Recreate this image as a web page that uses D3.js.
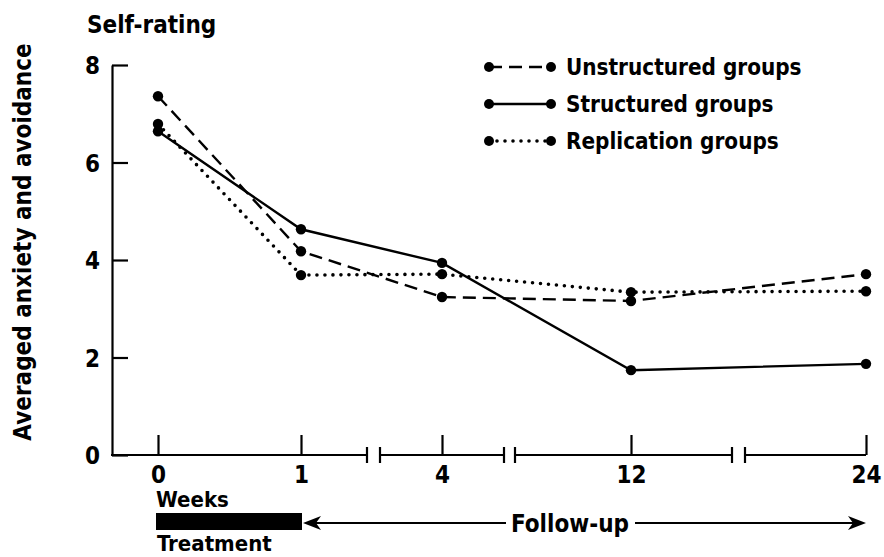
<!DOCTYPE html>
<html><head><meta charset="utf-8">
<script src="https://cdn.jsdelivr.net/npm/d3@7/dist/d3.min.js"></script>
<style>body{margin:0;background:#fff}svg{display:block}text{font-family:"DejaVu Sans Condensed","DejaVu Sans",sans-serif;font-weight:bold;fill:#000}</style>
</head><body><svg id="c" width="884" height="557"></svg>
<script>
const weeks = [0, 1, 4, 12, 24];
const weekLabels = ["0", "1", "4", "12", "24"];
const unstructured = [7.36, 4.18, 3.24, 3.16, 3.71];
const structured = [6.64, 4.63, 3.94, 1.74, 1.87];
const replication = [6.79, 3.69, 3.71, 3.34, 3.36];
const seriesNames = ["Unstructured groups", "Structured groups", "Replication groups"];
const yTicks = [0, 2, 4, 6, 8];

const FONT = "'DejaVu Sans Condensed','DejaVu Sans',sans-serif";
const svg = d3.select("#c");
const x = d3.scaleLinear().domain(weeks).range([158, 301, 442, 631, 866]);
const y = d3.scaleLinear().domain([0, 8]).range([455, 65]);
const X0 = 112;

// y axis
const ya = svg.append("g").attr("transform", `translate(${X0},0)`)
  .call(d3.axisLeft(y).tickValues(yTicks).tickSize(-16).tickSizeOuter(0).tickPadding(12));
ya.select(".domain").attr("stroke-width", 2.2);
ya.selectAll(".tick line").attr("stroke-width", 2.2);
ya.selectAll(".tick text").style("font-size", "24px").style("font-family", FONT).style("font-weight", "bold").attr("dy", "0.36em");

// x axis (ticks up), domain replaced by broken line
const xa = svg.append("g").attr("transform", `translate(0,${y(0)})`)
  .call(d3.axisBottom(x).tickValues(weeks).tickFormat((d, i) => weekLabels[i]).tickSize(-20).tickSizeOuter(0));
xa.select(".domain").remove();
xa.selectAll(".tick line").attr("stroke-width", 2.2);
xa.selectAll(".tick text").style("font-size", "24px").style("font-family", FONT).style("font-weight", "bold").attr("y", 28).attr("dy", null);

const segs = [[X0 - 1, 367], [380, 504], [515, 732], [745, x(24)]];
svg.append("g").selectAll("line").data(segs).join("line")
  .attr("x1", d => d[0]).attr("x2", d => d[1]).attr("y1", y(0)).attr("y2", y(0))
  .attr("stroke", "#000").attr("stroke-width", 2.2);
const bars = [367, 380, 504, 515, 732, 745];
svg.append("g").selectAll("line").data(bars).join("line")
  .attr("x1", d => d).attr("x2", d => d).attr("y1", y(0) - 8).attr("y2", y(0) + 8)
  .attr("stroke", "#000").attr("stroke-width", 2.2);

// series
const styles = [
  { data: unstructured, dash: "13,7", w: 2.4, cap: "butt" },
  { data: structured, dash: null, w: 2.4, cap: "butt" },
  { data: replication, dash: "0,8", w: 3.6, cap: "round" }
];
const line = d3.line().x((d, i) => x(weeks[i])).y(d => y(d));
styles.forEach(s => {
  svg.append("path").datum(s.data).attr("d", line).attr("fill", "none")
    .attr("stroke", "#000").attr("stroke-width", s.w)
    .attr("stroke-dasharray", s.dash).attr("stroke-linecap", s.cap);
  svg.append("g").selectAll("circle").data(s.data).join("circle")
    .attr("cx", (d, i) => x(weeks[i])).attr("cy", d => y(d)).attr("r", 5.2).attr("fill", "#000");
});

// legend
const lg = svg.append("g");
styles.forEach((s, i) => {
  const yy = 67 + i * 37;
  lg.append("line").attr("x1", 489).attr("x2", 551).attr("y1", yy).attr("y2", yy)
    .attr("stroke", "#000").attr("stroke-width", s.w)
    .attr("stroke-dasharray", s.dash).attr("stroke-linecap", s.cap);
  lg.append("circle").attr("cx", 489).attr("cy", yy).attr("r", 5).attr("fill", "#000");
  lg.append("circle").attr("cx", 551).attr("cy", yy).attr("r", 5).attr("fill", "#000");
  lg.append("text").attr("x", 566).attr("y", yy).attr("dy", "0.36em")
    .style("font-size", "22.3px").text(seriesNames[i]);
});

// titles
svg.append("text").attr("x", 87).attr("y", 33).style("font-size", "24px").text("Self-rating");
svg.append("text").attr("transform", "translate(31,242) rotate(-90)").attr("text-anchor", "middle")
  .style("font-size", "24px").text("Averaged anxiety and avoidance");

// bottom: treatment / follow-up
svg.append("text").attr("x", 156).attr("y", 507).style("font-size", "22px").text("Weeks");
svg.append("rect").attr("x", x(0) - 2).attr("y", 513).attr("width", x(1) - x(0) + 3).attr("height", 17).attr("fill", "#000");
svg.append("text").attr("x", 157).attr("y", 551).style("font-size", "22px").text("Treatment");
const ay = 523;
svg.append("line").attr("x1", x(1) + 6).attr("x2", 506).attr("y1", ay).attr("y2", ay).attr("stroke", "#000").attr("stroke-width", 1.8);
svg.append("line").attr("x1", 635).attr("x2", x(24) - 6).attr("y1", ay).attr("y2", ay).attr("stroke", "#000").attr("stroke-width", 1.8);
svg.append("path").attr("d", `M${x(1) + 2},${ay} L${x(1) + 20},${ay - 7} L${x(1) + 15},${ay} L${x(1) + 20},${ay + 7} Z`).attr("fill", "#000");
svg.append("path").attr("d", `M${x(24)},${ay} L${x(24) - 18},${ay - 7} L${x(24) - 13},${ay} L${x(24) - 18},${ay + 7} Z`).attr("fill", "#000");
svg.append("text").attr("x", 570).attr("y", ay).attr("dy", "0.36em").attr("text-anchor", "middle")
  .style("font-size", "24px").text("Follow-up");
</script></body></html>
